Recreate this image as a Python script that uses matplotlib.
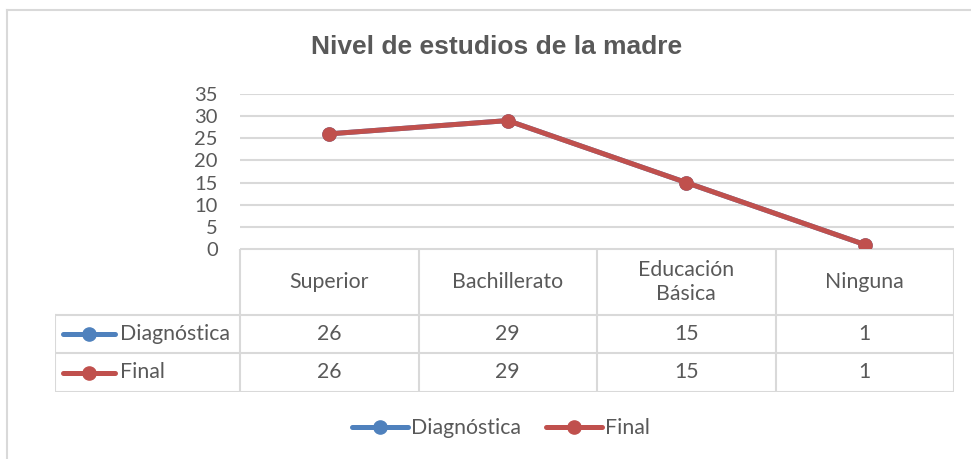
import numpy as np
import matplotlib.pyplot as plt
from matplotlib.lines import Line2D

categories = ["Superior", "Bachillerato", "Educación\nBásica", "Ninguna"]
series_names = ["Diagnóstica", "Final"]
diagnostica = [26, 29, 15, 1]
final = [26, 29, 15, 1]
yticks = [0, 5, 10, 15, 20, 25, 30, 35]

W, H = 971, 459
grey = "#595959"
line_col = "#d9d9d9"
colors = ["#4F81BD", "#C0504D"]
tfont = ["Lato", "DejaVu Sans"]
tsize = 15.3

fig = plt.figure(figsize=(W / 100, H / 100), dpi=100)


def fx(px):
    return px / W


def fy(py):
    return 1 - py / H


# outer chart border (only top and left are visible)
fig.add_artist(Line2D([fx(7), fx(7)], [fy(10), 0], color=line_col, lw=1.5))
fig.add_artist(Line2D([fx(7), 1], [fy(10), fy(10)], color=line_col, lw=1.5))

fig.text(fx(497), fy(47), "Nivel de estudios de la madre", ha="center", va="center",
         fontsize=19, fontweight="bold", color=grey, family="Liberation Sans")

# plot area
x0, x1 = 240, 954
ytop, ybot = 94, 249
ax = fig.add_axes([fx(x0), fy(ybot), fx(x1 - x0), (ybot - ytop) / H])
x = np.arange(len(categories))
for vals, c in zip([diagnostica, final], colors):
    ax.plot(x, vals, color=c, lw=3.6, marker="o", markersize=9.5, solid_capstyle="round")
ax.set_xlim(-0.5, len(categories) - 0.5)
ax.set_ylim(0, 35)
ax.set_yticks(yticks)
ax.set_xticks([])
ax.yaxis.grid(True, color=line_col, lw=1.5)
ax.set_axisbelow(True)
for s in ax.spines.values():
    s.set_visible(False)
ax.tick_params(axis="y", length=0, pad=16, labelsize=14.5, labelcolor=grey)
for lab in ax.get_yticklabels():
    lab.set_family(tfont)

# data table
rows = [diagnostica, final]
row_px = [249, 315, 353, 392]
lab_left = 55
cw = (x1 - x0) / len(categories)
left_units = (x0 - lab_left) / cw
tab = fig.add_axes([fx(lab_left), fy(row_px[-1]), fx(x1 - lab_left), (row_px[-1] - row_px[0]) / H])
tab.set_xlim(-0.5 - left_units, len(categories) - 0.5)
tab.set_ylim(row_px[-1], row_px[0])
tab.axis("off")
lkw = dict(color=line_col, lw=1.5, solid_capstyle="projecting")
xl = -0.5 - left_units
xr = len(categories) - 0.5
tab.plot([-0.5, xr], [row_px[0]] * 2, **lkw)
for yy in row_px[1:]:
    tab.plot([xl, xr], [yy, yy], **lkw)
tab.plot([xl, xl], [row_px[1], row_px[-1]], **lkw)
for i in range(len(categories) + 1):
    tab.plot([i - 0.5] * 2, [row_px[0], row_px[-1]], **lkw)
for i, cat in enumerate(categories):
    tab.text(i, (row_px[0] + row_px[1]) / 2, cat, ha="center", va="center",
             fontsize=tsize, color=grey, family=tfont, linespacing=1.3)
for r, (vals, name, c) in enumerate(zip(rows, series_names, colors)):
    yc = (row_px[r + 1] + row_px[r + 2]) / 2
    for i, v in enumerate(vals):
        tab.text(i, yc, str(v), ha="center", va="center", fontsize=tsize, color=grey, family=tfont)
    # legend key inside the row header
    kx0 = xl + 8 / cw
    kx1 = xl + 60 / cw
    tab.plot([kx0, kx1], [yc, yc], color=c, lw=3.6, solid_capstyle="round")
    tab.plot([(kx0 + kx1) / 2], [yc], "o", color=c, markersize=9.5)
    tab.text(xl + 65 / cw, yc, name, ha="left", va="center", fontsize=tsize, color=grey, family=tfont)

# bottom legend
handles = [Line2D([], [], color=c, lw=3.6, marker="o", markersize=9.5, solid_capstyle="round")
           for c in colors]
fig.legend(handles, series_names, loc="center", bbox_to_anchor=(fx(501), fy(428)), ncol=2,
           frameon=False, prop={"family": tfont, "size": tsize}, labelcolor=grey,
           handlelength=2.6, handletextpad=0.15, columnspacing=1.2)

fig.savefig("out.png", dpi=100)
